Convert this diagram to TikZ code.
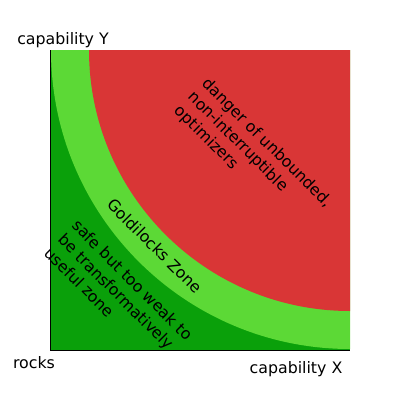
\documentclass[tikz,border=0pt]{standalone}
\usepackage{fontspec}
\setmainfont{DejaVu Sans}
\usepackage{xcolor}
\usepackage{tikz}
\usetikzlibrary{positioning}

\definecolor{dangerred}{RGB}{217,54,54}
\definecolor{goldgreen}{RGB}{92,217,54}
\definecolor{safegreen}{RGB}{10,160,10}

\tikzset{
  axislabel/.style={font=\fontsize{15.8}{19.5}\selectfont, inner sep=0pt},
  zonelabel/.style={font=\fontsize{15.8}{19.5}\selectfont, align=left, rotate=-45, inner sep=0pt}
}

\begin{document}
\begin{tikzpicture}[x=1pt, y=-1pt]
    \useasboundingbox (0,0) rectangle (400,400);

    % 区域
    \def\L{50}
    \def\T{50}
    \def\S{300}
    \fill[safegreen] (\L,\T) rectangle (\L+\S,\T+\S);
    \fill[goldgreen] (\L+\S,\T) -- (\L+1,\T) arc[start angle=180, end angle=270, x radius=299, y radius=-299] -- cycle;
    \fill[dangerred] (\L+\S,\T) -- (\L+\S-261,\T) arc[start angle=180, end angle=270, x radius=261, y radius=-261] -- cycle;

    % 坐标轴
    \draw[black, line width=1pt] (\L,\T) -- (\L,\T+\S) -- (\L+\S,\T+\S);

    % 标注
    \node[axislabel] (capy) at (63,40) {capability Y};
    \node[axislabel] (rocks) at (34,363) {rocks};
    \node[axislabel] (capx) at (296,369) {capability X};

    \node[zonelabel] (danger) at (253,157) {danger of unbounded,\\non-interruptible\\optimizers};
    \node[zonelabel] (gold) at (155,246) {Goldilocks Zone};
    \node[zonelabel] (safe) at (119,294) {safe but too weak to\\be transformatively\\useful zone};
\end{tikzpicture}
\end{document}
